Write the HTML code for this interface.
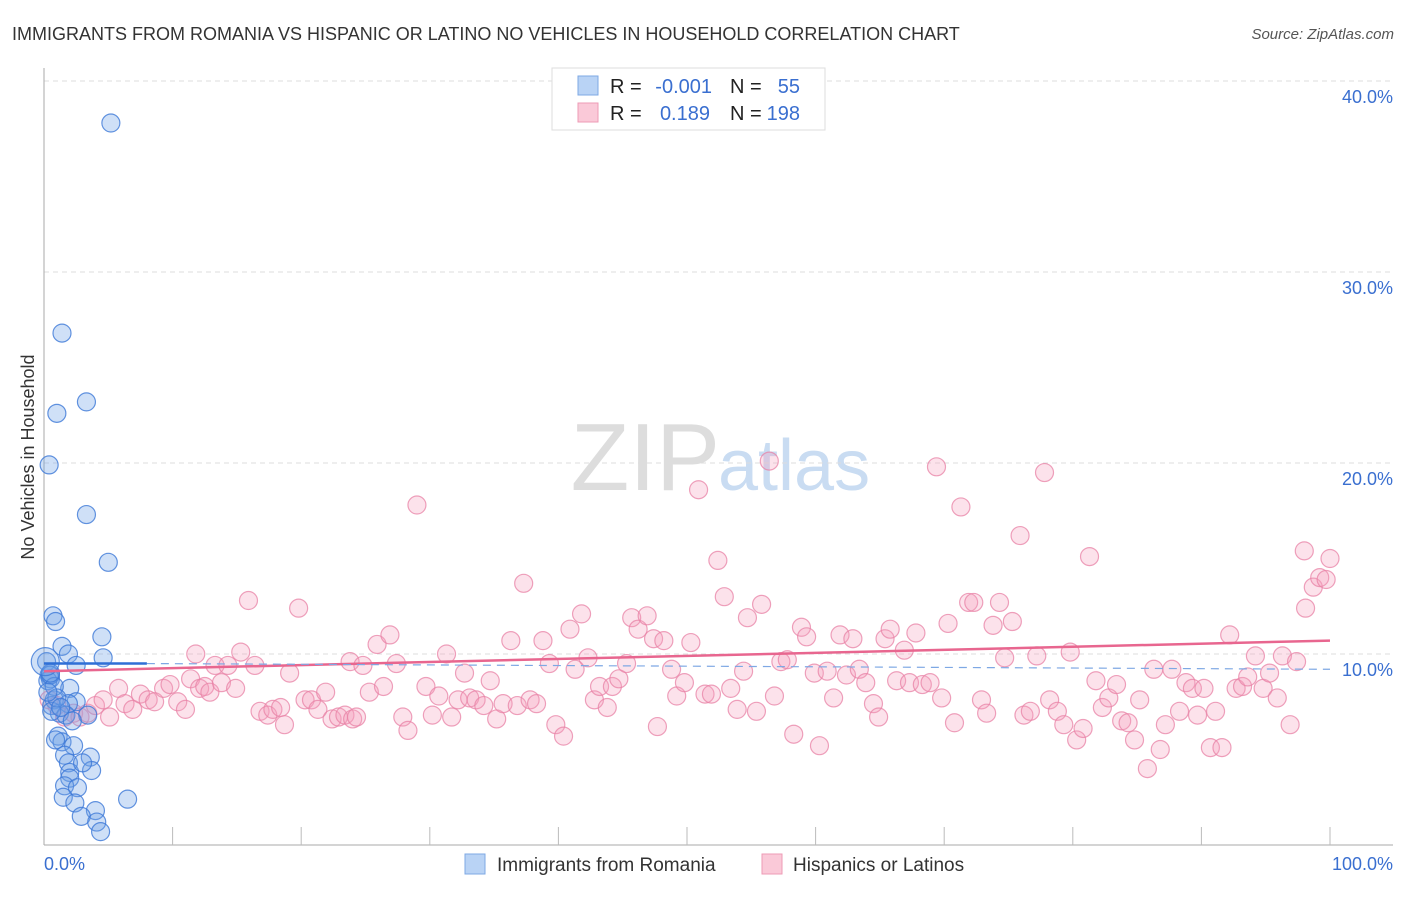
<!DOCTYPE html>
<html><head><meta charset="utf-8"><style>
body{margin:0;background:#fff;font-family:"Liberation Sans",sans-serif;}
svg text{font-family:"Liberation Sans",sans-serif;}
</style></head><body>
<svg id="chart" width="1406" height="892">
<text x="12" y="40" font-size="18" fill="#333">IMMIGRANTS FROM ROMANIA VS HISPANIC OR LATINO NO VEHICLES IN HOUSEHOLD CORRELATION CHART</text>
<text x="1394" y="39" font-size="15" fill="#555" font-style="italic" text-anchor="end">Source: ZipAtlas.com</text>
<text x="34" y="457" font-size="18" fill="#333" text-anchor="middle" transform="rotate(-90 34 457)">No Vehicles in Household</text>
<text x="720" y="490" font-size="96" fill="#ddd" text-anchor="end" font-family="Liberation Serif">ZIP</text>
<text x="718" y="490" font-size="72" fill="#c9dcf2">atlas</text>
<g id="grid"></g><g id="axes"></g><g id="pink"></g><g id="blue"></g><g id="trend"></g>
<g>
<rect x="552" y="68" width="273" height="62" fill="#fff" stroke="#ddd"/>
<rect x="578" y="76" width="20" height="19" fill="#b9d3f5" stroke="#7ea8e4"/>
<rect x="578" y="103" width="20" height="19" fill="#fac9d8" stroke="#ee9bb6"/>
<text x="610" y="93" font-size="20" fill="#222">R = </text><text x="712" y="93" font-size="20" fill="#3a6fd0" text-anchor="end">-0.001</text>
<text x="730" y="93" font-size="20" fill="#222">N = </text><text x="800" y="93" font-size="20" fill="#3a6fd0" text-anchor="end">55</text>
<text x="610" y="120" font-size="20" fill="#222">R = </text><text x="710" y="120" font-size="20" fill="#3a6fd0" text-anchor="end">0.189</text>
<text x="730" y="120" font-size="20" fill="#222">N = </text><text x="800" y="120" font-size="20" fill="#3a6fd0" text-anchor="end">198</text>
</g>
<g>
<rect x="465" y="854" width="20" height="20" fill="#b9d3f5" stroke="#7ea8e4"/>
<text x="497" y="871" font-size="19" fill="#333">Immigrants from Romania</text>
<rect x="762" y="854" width="20" height="20" fill="#fac9d8" stroke="#ee9bb6"/>
<text x="793" y="871" font-size="19" fill="#333">Hispanics or Latinos</text>
</g>
</svg>
<script>
const yTicks=[10,20,30,40];
const xTickLabels=["0.0%","100.0%"];
const blueX=[5.2,1.4,1.0,3.3,0.4,3.3,5.0,0.7,0.9,1.4,1.9,4.5,4.6,2.5,0.2,0.4,0.5,2.0,0.8,0.6,2.5,1.9,3.4,1.1,1.4,2.3,1.6,1.9,3.6,3.7,2.0,2.0,1.6,2.6,1.5,2.4,6.5,4.0,2.9,4.1,4.4,0.3,0.5,0.8,1.2,1.7,2.2,0.6,1.0,0.3,0.5,0.9,3.0,1.3,0.1];
const blueY=[37.8,26.8,22.6,23.2,19.9,17.3,14.8,12.0,11.7,10.4,10.0,10.9,9.8,9.4,9.6,8.9,8.7,8.2,7.6,7.3,7.5,7.4,6.8,5.7,5.4,5.2,4.7,4.3,4.6,3.9,3.8,3.5,3.1,3.0,2.5,2.2,2.4,1.8,1.5,1.2,0.7,8.6,8.9,8.3,6.9,6.8,6.5,7.0,7.7,8.0,9.0,5.5,4.3,7.2,9.6];
const blueR=[9,9,9,9,9,9,9,9,9,9,9,9,9,9,9,9,9,9,9,9,9,9,9,9,9,9,9,9,9,9,9,9,9,9,9,9,9,9,9,9,9,9,9,9,9,9,9,9,9,9,9,9,9,9,14];
const pinkX=[0.4,1.0,1.6,2.3,2.8,3.4,4.0,4.6,5.1,5.8,6.3,6.9,7.5,8.1,8.6,9.3,9.8,10.4,11.0,11.4,11.8,12.1,12.5,12.9,13.3,13.8,14.3,14.9,15.3,15.9,16.4,16.8,17.4,17.8,18.4,18.7,19.8,19.1,20.3,20.8,21.3,21.9,22.4,22.9,23.4,23.8,24.0,24.3,24.8,25.3,25.9,26.4,26.9,27.4,27.9,28.3,29.0,29.7,30.2,30.7,31.3,31.7,32.2,32.7,33.1,33.6,34.2,34.7,35.2,35.7,36.3,36.8,37.3,37.8,38.3,38.8,39.3,39.8,40.4,40.9,41.3,41.8,42.3,42.8,43.2,43.8,44.2,44.7,45.3,45.7,46.2,46.9,47.4,47.7,48.2,48.8,49.2,49.8,50.3,50.9,51.4,51.9,52.4,52.9,53.4,53.9,54.4,54.7,55.4,55.8,56.4,56.8,57.3,57.8,58.3,58.9,59.3,59.9,60.3,60.9,61.4,61.9,62.4,62.9,63.4,63.9,64.5,64.9,65.4,65.8,66.3,66.9,67.3,67.8,68.3,68.9,69.4,69.8,70.3,70.8,71.3,71.9,72.3,72.9,73.3,73.8,74.3,74.7,75.3,75.9,76.2,76.7,77.2,77.8,78.2,78.8,79.3,79.8,80.3,80.8,81.3,81.8,82.3,82.8,83.4,83.8,84.3,84.8,85.2,85.8,86.3,86.8,87.2,87.7,88.3,88.8,89.3,89.7,90.2,90.7,91.1,91.6,92.2,92.7,93.2,93.6,94.2,94.8,95.3,95.9,96.3,96.9,97.4,98.0,98.1,98.7,99.2,99.7,100.0];
const pinkY=[7.6,7.3,6.7,6.9,6.7,6.9,7.3,7.6,6.7,8.2,7.4,7.1,7.9,7.6,7.5,8.2,8.4,7.5,7.1,8.7,10.0,8.2,8.3,8.0,9.4,8.5,9.4,8.2,10.1,12.8,9.4,7.0,6.8,7.1,7.2,6.3,12.4,9.0,7.6,7.6,7.1,8.0,6.6,6.7,6.8,9.6,6.6,6.7,9.4,8.0,10.5,8.3,11.0,9.5,6.7,6.0,17.8,8.3,6.8,7.8,10.0,6.7,7.6,9.0,7.7,7.6,7.3,8.6,6.6,7.4,10.7,7.3,13.7,7.6,7.4,10.7,9.5,6.3,5.7,11.3,9.2,12.1,9.8,7.6,8.3,7.2,8.3,8.7,9.5,11.9,11.3,12.0,10.8,6.2,10.7,9.2,7.8,8.5,10.6,18.6,7.9,7.9,14.9,13.0,8.2,7.1,9.1,11.9,7.0,12.6,20.1,7.8,9.6,9.7,5.8,11.4,10.9,9.0,5.2,9.1,7.7,11.0,8.9,10.8,9.2,8.5,7.4,6.7,10.8,11.3,8.6,10.2,8.5,11.1,8.4,8.5,19.8,7.7,11.6,6.4,17.7,12.7,12.7,7.6,6.9,11.5,12.7,9.8,11.7,16.2,6.8,7.0,9.9,19.5,7.6,7.0,6.3,10.1,5.5,6.1,15.1,8.6,7.2,7.7,8.4,6.5,6.4,5.5,7.6,4.0,9.2,5.0,6.3,9.2,7.0,8.5,8.2,6.8,8.2,5.1,7.0,5.1,11.0,8.2,8.3,8.8,9.9,8.2,9.0,7.7,9.9,6.3,9.6,15.4,12.4,13.5,14.0,13.9,15.0];
const blueTrend=[[0,9.5],[8,9.5]];
const blueDash=[[8,9.5],[100,9.2]];
const pinkTrend=[[0,9.1],[100,10.7]];

const X0=44,X1=1330,Y0=845,PX=191/10;
const xs=v=>X0+v/100*(X1-X0);
const ys=v=>Y0-v*PX;
const NS="http://www.w3.org/2000/svg";
function mk(tag,attrs,parent){const e=document.createElementNS(NS,tag);for(const k in attrs)e.setAttribute(k,attrs[k]);document.getElementById(parent).appendChild(e);return e;}

yTicks.forEach(t=>{
 const l=mk('line',{x1:X0,x2:1393,y1:ys(t),y2:ys(t),stroke:'#ddd','stroke-dasharray':'5,4'},'grid');
 
 
 const tx=mk('text',{x:1393,y:ys(t)+22,'font-size':18,fill:'#3a6fd0','text-anchor':'end'},'grid');
 tx.textContent=t.toFixed(1)+'%';
 
 
});
const ax=mk('line',{x1:X0,x2:X0,y1:68,y2:Y0,stroke:'#aaa'},'axes');


const bx=mk('line',{x1:X0,x2:1393,y1:Y0,y2:Y0,stroke:'#aaa'},'axes');


for(let i=1;i<=10;i++){
 const t=mk('line',{x1:xs(i*10),x2:xs(i*10),y1:Y0-18,y2:Y0,stroke:'#bbb'},'axes');
 
 
}
const xl0=mk('text',{x:44,y:870,'font-size':18,fill:'#3a6fd0'},'axes');
xl0.textContent=xTickLabels[0];


const xl1=mk('text',{x:1393,y:870,'font-size':18,fill:'#3a6fd0','text-anchor':'end'},'axes');
xl1.textContent=xTickLabels[1];



pinkX.forEach((v,i)=>{
 const c=mk('circle',{cx:xs(v),cy:ys(pinkY[i]),r:9,fill:'rgba(244,160,188,0.3)',stroke:'rgba(232,130,165,0.75)','stroke-width':1.2},'pink');
 
 
});
blueX.forEach((v,i)=>{
 const c=mk('circle',{cx:xs(v),cy:ys(blueY[i]),r:blueR[i],fill:'rgba(110,160,230,0.33)',stroke:'rgba(60,120,215,0.8)','stroke-width':1.2},'blue');
 
 
});
const pt=mk('line',{x1:xs(pinkTrend[0][0]),y1:ys(pinkTrend[0][1]),x2:xs(pinkTrend[1][0]),y2:ys(pinkTrend[1][1]),stroke:'#e8668f','stroke-width':2.5},'trend');


const bd=mk('line',{x1:xs(blueDash[0][0]),y1:ys(blueDash[0][1]),x2:xs(blueDash[1][0]),y2:ys(blueDash[1][1]),stroke:'#7ea8e4','stroke-width':1.2,'stroke-dasharray':'8,6'},'trend');


const bt=mk('line',{x1:xs(blueTrend[0][0]),y1:ys(blueTrend[0][1]),x2:xs(blueTrend[1][0]),y2:ys(blueTrend[1][1]),stroke:'#2f6fd6','stroke-width':2.5},'trend');


</script>
</body></html>
